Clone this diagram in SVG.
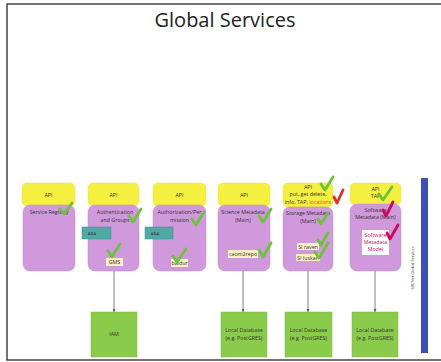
<svg xmlns="http://www.w3.org/2000/svg" width="441" height="362" viewBox="0 0 441 362">
<style>
.t{font-family:"Open Sans","Liberation Sans",sans-serif;fill:#333;text-anchor:middle}
.s{font-size:5.3px}
.api{fill:#f5ef3f;stroke:#e6df50;stroke-width:0.5}
.svc{fill:#cf99dc;stroke:#c08ad0;stroke-width:0.5}
.db{fill:#8bcb4c;stroke:#7fb845;stroke-width:0.5}
.aa{fill:#4fa9a4;stroke:#3f8f8c;stroke-width:0.5}
.lbl{fill:#fdf0c4}
.g{fill:none;stroke:#6cc33a;stroke-width:2.8;stroke-linecap:round;stroke-linejoin:round}
.r{fill:none;stroke:#e0302a;stroke-width:2.8;stroke-linecap:round;stroke-linejoin:round}
.m{fill:none;stroke:#cc0a5a;stroke-width:2.8;stroke-linecap:round;stroke-linejoin:round}
.c{stroke:#808080;stroke-width:1;fill:none}
</style>
<defs>
<marker id="ah" viewBox="0 0 4 4" refX="4" refY="2" markerWidth="3" markerHeight="3" orient="auto">
<path d="M0,0 L4,2 L0,4 z" fill="#555"/>
</marker>
</defs>
<rect x="0" y="0" width="441" height="362" fill="#fff"/>
<rect x="7" y="4" width="440" height="356" fill="none" stroke="#444" stroke-width="1.5"/>
<text class="t" x="225" y="26.5" font-size="20" style="fill:#222">Global Services</text>

<g id="connectors">
<line class="c" x1="114" y1="271" x2="114" y2="312" marker-end="url(#ah)"/>
<line class="c" x1="243" y1="271" x2="243" y2="312" marker-end="url(#ah)"/>
<line class="c" x1="308" y1="271" x2="308" y2="312" marker-end="url(#ah)"/>
<line class="c" x1="375" y1="271" x2="375" y2="312" marker-end="url(#ah)"/>
</g>

<g id="service-registry">
<rect class="api" x="22" y="183" width="53" height="23" rx="5"/>
<text class="t s" x="48.5" y="197">API</text>
<rect class="svc" x="23" y="205" width="52" height="66" rx="7"/>
<text class="t s" x="49" y="214">Service Registry</text>
<path class="g" d="M60,209 L64,214 L72,203"/>
</g>

<g id="auth-groups">
<rect class="api" x="88" y="183" width="51" height="23" rx="5"/>
<text class="t s" x="113.5" y="197">API</text>
<rect class="svc" x="88" y="205" width="51" height="66" rx="7"/>
<text class="t s" x="115" y="214">Authentication</text>
<text class="t s" x="115" y="221.5">and Groups</text>
<path class="g" d="M129,216 L133,222 L141,209"/>
<rect class="aa" x="82" y="227" width="29" height="12"/>
<text class="t" x="92" y="234.5" font-size="4.2">A&amp;A</text>
<rect class="lbl" x="106" y="258" width="17" height="8"/>
<text class="t s" x="114.5" y="264">GMS</text>
<path class="g" d="M108,251 L112,257 L120,244"/>
</g>

<g id="authorization">
<rect class="api" x="153" y="183" width="53" height="23" rx="5"/>
<text class="t s" x="179.5" y="197">API</text>
<rect class="svc" x="153" y="205" width="53" height="66" rx="7"/>
<text class="t s" x="179.5" y="214">Authorization/Per</text>
<text class="t s" x="179.5" y="221.5">mission</text>
<path class="g" d="M192,219 L196,225 L204,212"/>
<rect class="aa" x="145" y="227" width="28" height="12"/>
<text class="t" x="155" y="234.5" font-size="4.2">A&amp;A</text>
<rect class="lbl" x="171" y="259" width="17" height="8"/>
<text class="t s" x="179.5" y="265">baldur</text>
<path class="g" d="M173,256 L177,262 L186,249"/>
</g>

<g id="science-metadata">
<rect class="api" x="218" y="183" width="52" height="23" rx="5"/>
<text class="t s" x="244" y="197">API</text>
<rect class="svc" x="218" y="205" width="52" height="66" rx="7"/>
<text class="t s" x="243" y="214">Science Metadata</text>
<text class="t s" x="243" y="221.5">(Main)</text>
<path class="g" d="M259,216 L263,222 L271,209"/>
<rect class="lbl" x="228" y="250" width="30" height="8"/>
<text class="t s" x="243" y="256">caom2repo</text>
<path class="g" d="M259,250 L263,257 L271,243"/>
</g>

<g id="storage-metadata">
<rect class="api" x="283" y="183" width="50" height="24" rx="5"/>
<text class="t s" x="308" y="188.5">API</text>
<text class="t s" x="308" y="196">put, get delete,</text>
<text class="t s" x="308" y="203.5">info, TAP, <tspan fill="#e2541d">locations</tspan></text>
<path class="g" d="M321,184 L325,190 L333,177"/>
<path class="r" d="M334,197 L337,203 L343,190"/>
<rect class="svc" x="283" y="207" width="50" height="64" rx="7"/>
<text class="t s" x="308" y="215">Storage Metadata</text>
<text class="t s" x="308" y="222.5">(Main)</text>
<path class="g" d="M318,219 L321,224 L328,213"/>
<rect class="lbl" x="297" y="243" width="22" height="7"/>
<text class="t s" x="308" y="248.5">SI raven</text>
<path class="g" d="M318,240 L321,245 L328,233"/>
<rect class="lbl" x="296" y="254" width="24" height="7"/>
<text class="t s" x="308" y="259.5">SI luskan</text>
<path class="g" d="M315,252 L319,258 L328,243"/>
</g>

<g id="software-metadata">
<rect class="api" x="350" y="183" width="51" height="22" rx="5"/>
<text class="t s" x="375.5" y="190.5">API</text>
<text class="t s" x="375.5" y="198">TAP</text>
<path class="g" d="M379,194 L383,200 L392,187"/>
<rect class="svc" x="350" y="204" width="51" height="67" rx="7"/>
<text class="t s" x="375.5" y="212">Software</text>
<text class="t s" x="375.5" y="219">Metadata (Main)</text>
<path class="m" d="M383,210 L386,216 L393,202"/>
<rect x="362" y="230" width="27" height="25" fill="#fff"/>
<text class="t s" x="375.5" y="236.5" style="fill:#cc0a5a">Software</text>
<text class="t s" x="375.5" y="243.5" style="fill:#cc0a5a">Metadata</text>
<text class="t s" x="375.5" y="250.5" style="fill:#cc0a5a">Model</text>
<path class="m" d="M387,233 L390,239 L398,225"/>
</g>

<g id="iam">
<rect class="db" x="91" y="312" width="46" height="45"/>
<text class="t s" x="114" y="336">IAM</text>
</g>
<g id="db-science">
<rect class="db" x="221" y="312" width="46" height="45"/>
<text class="t s" x="244" y="332">Local Database</text>
<text class="t s" x="244" y="339.5">(e.g. PostGRES)</text>
</g>
<g id="db-storage">
<rect class="db" x="285" y="312" width="47" height="45"/>
<text class="t s" x="308.5" y="332">Local Database</text>
<text class="t s" x="308.5" y="339.5">(e.g. PostGRES)</text>
</g>
<g id="db-software">
<rect class="db" x="352" y="312" width="46" height="45"/>
<text class="t s" x="375" y="332">Local Database</text>
<text class="t s" x="375" y="339.5">(e.g. PostGRES)</text>
</g>

<g id="srcnet-bar">
<rect x="421" y="178" width="7" height="175" fill="#3f4fb8"/>
<text class="t" x="0" y="0" font-size="4" transform="translate(414,268) rotate(-90)">SRCNet Global Services</text>
</g>
</svg>
